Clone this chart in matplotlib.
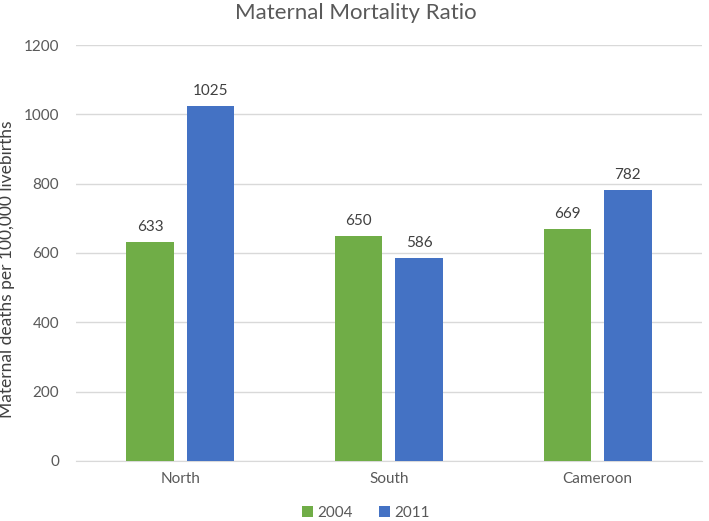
import matplotlib
matplotlib.use("Agg")
import matplotlib.pyplot as plt
import numpy as np

plt.rcParams['font.family'] = ['Lato', 'DejaVu Sans']

categories = ["North", "South", "Cameroon"]
series_names = ["2004", "2011"]
values_2004 = [633, 650, 669]
values_2011 = [1025, 586, 782]
yticks = [0, 200, 400, 600, 800, 1000, 1200]

green = "#70AD47"
blue = "#4472C4"
text_col = "#595959"

fig = plt.figure(figsize=(7.09, 5.21), dpi=100)
ax = fig.add_axes([0.107, 0.1152, 0.883, 0.7984])

x = np.arange(len(categories))
w = 0.227
off = 0.145
b1 = ax.bar(x - off, values_2004, w, color=green, label=series_names[0], zorder=3)
b2 = ax.bar(x + off, values_2011, w, color=blue, label=series_names[1], zorder=3)

for bars, vals in ((b1, values_2004), (b2, values_2011)):
    for r, v in zip(bars, vals):
        ax.text(r.get_x() + r.get_width() / 2, v + 22, f"{v}", ha="center", va="bottom",
                fontsize=11, color="#404040")

ax.set_xlim(-0.5, 2.5)
ax.set_ylim(0, 1200)
ax.set_yticks(yticks)
ax.set_yticklabels([str(t) for t in yticks], fontsize=11, color=text_col)
ax.set_xticks(x)
ax.set_xticklabels(categories, fontsize=11, color=text_col)
ax.tick_params(axis='y', length=0, pad=12)
ax.tick_params(axis='x', length=0, pad=8)
ax.yaxis.grid(True, color="#D9D9D9", linewidth=1, zorder=0)
for s in ["top", "right", "left"]:
    ax.spines[s].set_visible(False)
ax.spines["bottom"].set_color("#D9D9D9")
ax.set_ylabel("Maternal deaths per 100,000 livebirths", fontsize=12.5, color="#404040")
ax.yaxis.set_label_coords(-0.097, 0.46)

fig.text(0.502, 0.975, "Maternal Mortality Ratio", ha="center", va="center", fontsize=16, color=text_col)

leg = fig.legend(handles=[b1, b2], labels=series_names, loc="center", bbox_to_anchor=(0.516, 0.016),
                 ncol=2, frameon=False, fontsize=11, handlelength=0.7, handleheight=0.7,
                 handletextpad=0.3, columnspacing=1.7, labelcolor=text_col)

fig.savefig("out.png", dpi=100)
